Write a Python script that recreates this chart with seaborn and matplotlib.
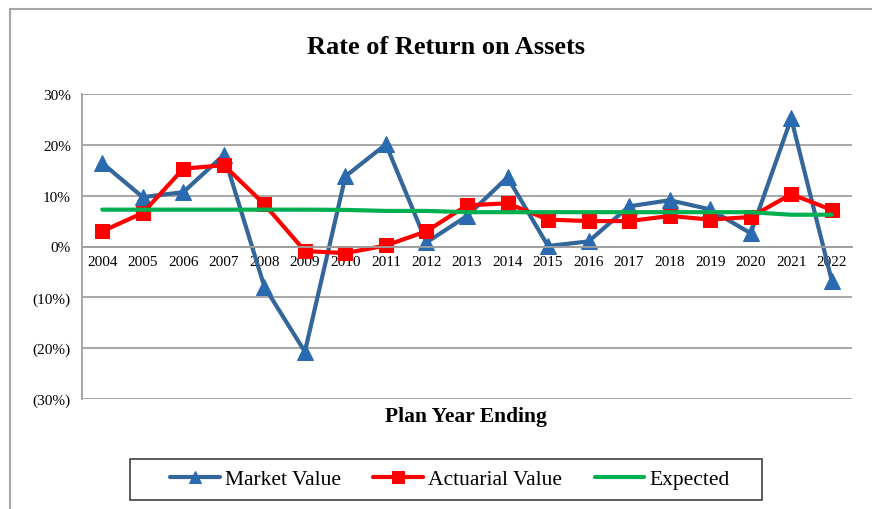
import seaborn as sns
import matplotlib.pyplot as plt
import pandas as pd
import numpy as np
from matplotlib.patches import Rectangle
from matplotlib.ticker import FuncFormatter, FixedLocator

# data (percent)
years = list(range(2004, 2023))
market = [16.4, 9.7, 10.7, 18.0, -7.9, -20.7, 13.8, 20.1, 0.8, 6.0,
          13.6, 0.1, 1.0, 7.9, 9.1, 7.3, 2.6, 25.2, -6.7]
actuarial = [3.0, 6.6, 15.3, 16.0, 8.3, -0.9, -1.3, 0.2, 3.0, 8.1,
             8.5, 5.3, 5.0, 5.0, 6.0, 5.3, 5.8, 10.3, 7.2]
expected = [7.25, 7.25, 7.25, 7.25, 7.25, 7.25, 7.2, 7.0, 7.0, 6.75,
            6.75, 6.75, 6.75, 6.75, 6.75, 6.75, 6.75, 6.25, 6.25]

df = pd.DataFrame({"Year": years, "Market Value": market,
                   "Actuarial Value": actuarial, "Expected": expected})

sns.set_theme(style="white")
plt.rcParams['font.family'] = ['Liberation Serif', 'DejaVu Serif']
plt.rcParams['text.color'] = 'black'
plt.rcParams['xtick.color'] = 'black'
plt.rcParams['ytick.color'] = 'black'

fig = plt.figure(figsize=(8.72, 5.10), dpi=100)
ax = fig.add_axes([82 / 872, 1 - 400 / 510, 770 / 872, 305 / 510])

sns.lineplot(data=df, x="Year", y="Market Value", ax=ax, color="#336699",
             lw=3, marker="^", markersize=11, markerfacecolor="#2A6AB0",
             markeredgecolor="#2A6AB0", label="Market Value")
sns.lineplot(data=df, x="Year", y="Actuarial Value", ax=ax, color="#FF0000",
             lw=3, marker="s", markersize=10, markeredgecolor="#FF0000",
             label="Actuarial Value")
sns.lineplot(data=df, x="Year", y="Expected", ax=ax, color="#00B050",
             lw=3, label="Expected")

ax.set_xlim(2003.5, 2022.5)
ax.set_ylim(-30, 30)
ax.set_yticks([-30, -20, -10, 0, 10, 20, 30])
ax.yaxis.set_major_formatter(FuncFormatter(
    lambda v, p: f"{int(v)}%" if v >= 0 else f"({int(-v)}%)"))
ax.yaxis.grid(True, color="#A0A0A0", lw=1.3)
ax.set_axisbelow(True)

# x axis sits on the zero line
ax.spines['bottom'].set_position(('data', 0))
ax.spines['bottom'].set_color("#A0A0A0")
ax.spines['bottom'].set_linewidth(1.3)
ax.spines['left'].set_color("#A0A0A0")
ax.spines['left'].set_linewidth(1.3)
ax.spines['top'].set_visible(False)
ax.spines['right'].set_visible(False)

ax.set_xticks(years)
ax.set_xticklabels([str(y) for y in years], fontsize=11)
ax.xaxis.set_minor_locator(FixedLocator([y + 0.5 for y in years]))
ax.tick_params(axis='x', which='major', length=0, pad=6)
ax.tick_params(axis='x', which='minor', length=5, color="#A0A0A0", width=1.3, direction='out')
ax.tick_params(axis='y', length=5, color="#A0A0A0", labelcolor='black', width=1.3,
               direction='out', labelsize=11, pad=3)
ax.set_xlabel("")
ax.set_ylabel("")
ax.get_legend().remove()

fig.text(446 / 872, 1 - 47 / 510, "Rate of Return on Assets", ha='center', va='center',
         fontsize=19, fontweight='bold')
fig.text(466 / 872, 1 - 417 / 510, "Plan Year Ending", ha='center', va='center',
         fontsize=15.5, fontweight='bold')

handles, labels = ax.get_legend_handles_labels()
leg = fig.legend(handles, labels, loc='center', bbox_to_anchor=(450 / 872, 1 - 480 / 510),
                 ncol=3, fontsize=15.5, frameon=False, handlelength=2.3,
                 columnspacing=1.5, handletextpad=0.25, borderpad=0.45, borderaxespad=0)
for h in leg.legend_handles:
    h.set_markersize(8)

# legend box (wider side padding than matplotlib's frame allows)
fig.patches.append(Rectangle((130 / 872, 1 - 501 / 510), 632 / 872, 41 / 510,
                             transform=fig.transFigure, fill=False,
                             edgecolor="#404040", lw=1.2))
# outer chart frame
fig.patches.append(Rectangle((10 / 872, -0.1), 1.0, 1 - 10 / 510 + 0.1, transform=fig.transFigure,
                             fill=False, edgecolor="#A6A6A6", lw=1.5))

fig.savefig("out.png", dpi=100)
